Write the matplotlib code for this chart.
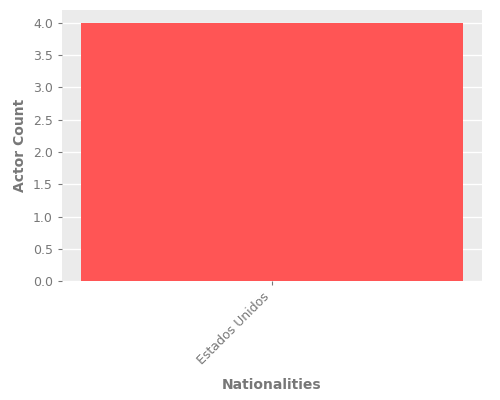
import matplotlib
matplotlib.use("Agg")
import matplotlib.pyplot as plt

nationalities = ["Estados Unidos"]
actor_counts = [4]

fig, ax = plt.subplots(figsize=(5, 4), dpi=100)
fig.subplots_adjust(left=0.124, right=0.964, top=0.975, bottom=0.297)

ax.set_facecolor("#ebebeb")
ax.bar(nationalities, actor_counts, color="#ff5555", width=0.8, zorder=2)
ax.set_yticks([0, 0.5, 1, 1.5, 2, 2.5, 3, 3.5, 4])
ax.grid(axis="y", color="white", linewidth=1, zorder=0)
ax.set_axisbelow(True)
for s in ax.spines.values():
    s.set_visible(False)

ax.tick_params(colors="#777777", labelsize=9, length=3)
plt.setp(ax.get_xticklabels(), rotation=45, ha="right")
ax.set_xlabel("Nationalities", color="#777777", fontsize=10, fontweight="bold", labelpad=8)
ax.set_ylabel("Actor Count", color="#777777", fontsize=10, fontweight="bold")

fig.savefig("out.png")
